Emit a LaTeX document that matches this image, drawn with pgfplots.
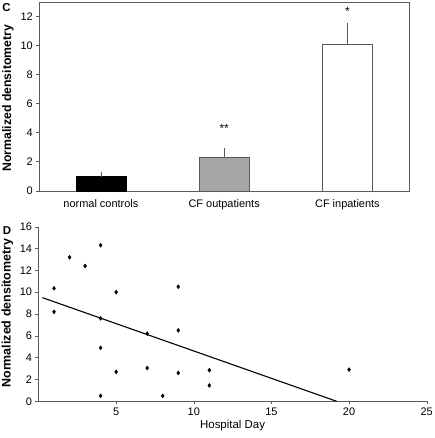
\documentclass[border=0pt]{standalone}
\usepackage{fontspec}
\setmainfont{Liberation Sans}
\usepackage{pgfplots}
\pgfplotsset{compat=1.18}
\definecolor{framegray}{RGB}{90,90,90}
\definecolor{bargray}{RGB}{166,166,166}
\begin{document}
\begin{tikzpicture}
\useasboundingbox (0,0) rectangle (435bp,-438bp);
% Panel C
\begin{axis}[
  at={(39.3bp,-190.7bp)}, anchor=south west,
  scale only axis, width=369.7bp, height=188.7bp,
  xmin=-0.5, xmax=2.5, ymin=0, ymax=13,
  xtick={0,1,2},
  xticklabels={normal controls,CF outpatients,CF inpatients},
  ytick={0,2,...,12},
  x tick style={draw=none},
  y tick style={framegray, thin},
  tick align=outside,
  major tick length=3bp,
  ytick pos=left,
  axis line style={framegray, thin},
  tick label style={font=\fontsize{11}{13}\selectfont},
  xticklabel style={yshift=-2bp},
  /pgf/number format/assume math mode=true,
  ylabel={\textbf{Normalized densitometry}},
  every axis y label/.style={at={(axis description cs:-0.0847,0.49)}, anchor=center, rotate=90, font=\fontsize{12.3}{15}\selectfont},
  clip=false,
]
\addplot[ybar, bar width=50bp, fill=black, draw=black,
  error bars/.cd, y dir=plus, y explicit, error mark=-, error mark options={mark size=2.5bp, framegray}, error bar style={framegray}]
  coordinates {(0,1.0) +- (0,0.15)};
\addplot[ybar, bar width=50bp, fill=bargray, draw=framegray,
  error bars/.cd, y dir=plus, y explicit, error mark=-, error mark options={mark size=2.5bp, framegray}, error bar style={framegray}]
  coordinates {(1,2.3) +- (0,0.45)};
\addplot[ybar, bar width=50bp, fill=white, draw=framegray,
  error bars/.cd, y dir=plus, y explicit, error mark=-, error mark options={mark size=2.5bp, framegray}, error bar style={framegray}]
  coordinates {(2,10.1) +- (0,1.3)};
\node[font=\fontsize{12}{14}\selectfont] at (axis cs:1,4.3) {**};
\node[font=\fontsize{12}{14}\selectfont] at (axis cs:2,12.35) {*};
\end{axis}
\node[font=\bfseries\fontsize{11.5}{13}\selectfont] at (6.5bp,-7.5bp) {C};
% Panel D
\begin{axis}[
  at={(38.5bp,-401.3bp)}, anchor=south west,
  scale only axis, width=388.2bp, height=174.6bp,
  xmin=0, xmax=25, ymin=0, ymax=16,
  xtick={5,10,...,25},
  ytick={0,2,...,16},
  axis lines=left,
  axis line style={-, framegray, thin},
  tick style={framegray, thin},
  tick align=outside,
  major tick length=3bp,
  tick label style={font=\fontsize{11}{13}\selectfont},
  /pgf/number format/assume math mode=true,
  xlabel={Hospital Day},
  xlabel style={font=\fontsize{11.5}{13}\selectfont, yshift=2bp},
  ylabel={\textbf{Normalized densitometry}},
  every axis y label/.style={at={(axis description cs:-0.08,0.505)}, anchor=center, rotate=90, font=\fontsize{12.5}{14}\selectfont},
  clip=false,
]
\addplot[only marks, mark=diamond*, mark size=2bp, mark options={fill=black, draw=black}]
  coordinates {
  (1,10.35) (1,8.2) (2,13.2) (3,12.4) (4,14.3) (4,7.6) (4,4.9) (4,0.5)
  (5,10.0) (5,2.7) (7,6.2) (7,3.05) (8,0.5) (9,10.5) (9,6.5) (9,2.6)
  (11,2.85) (11,1.45) (20,2.9)
  };
\addplot[black, line width=1.1pt] coordinates {(0.25,9.5) (19.2,0)};
\end{axis}
\node[font=\bfseries\fontsize{11.5}{13}\selectfont] at (7bp,-231bp) {D};
\end{tikzpicture}
\end{document}
